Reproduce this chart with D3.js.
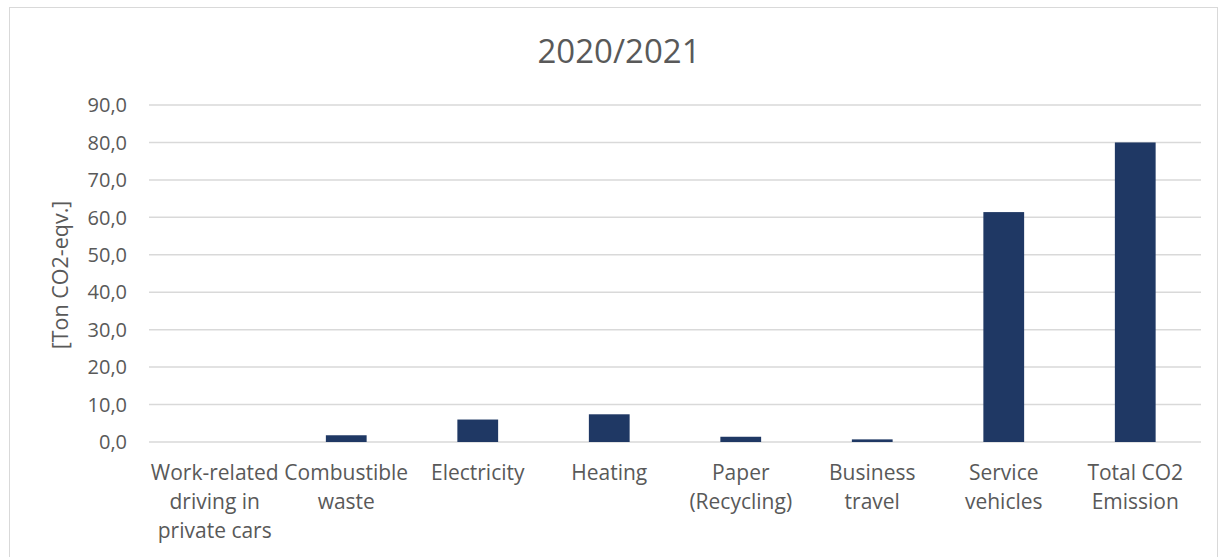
<!DOCTYPE html>
<html><head><meta charset="utf-8">
<script src="https://cdn.jsdelivr.net/npm/d3@7"></script>
<style>body{margin:0;background:#fff;} text{font-family:"Open Sans",sans-serif;}</style>
</head><body>
<svg id="c" width="1226" height="557"></svg>
<script>
const categories = [["Work-related","driving in","private cars"],["Combustible","waste"],["Electricity"],["Heating"],["Paper","(Recycling)"],["Business","travel"],["Service","vehicles"],["Total CO2","Emission"]];
const values = [0, 1.8, 6.0, 7.4, 1.4, 0.7, 61.4, 80.0];
const yTicks = [0,10,20,30,40,50,60,70,80,90];
const title = "2020/2021";
const yTitle = "[Ton CO2-eqv.]";

const svg = d3.select("#c");
svg.append("rect").attr("x",9.5).attr("y",7.5).attr("width",1208).attr("height",560).attr("fill","#fff").attr("stroke","#d9d9d9");
const x = d3.scaleBand().domain(d3.range(categories.length)).range([149,1201]).paddingInner(0.69).paddingOuter(0.345);
const y = d3.scaleLinear().domain([0,90]).range([442,105]);
const col = "#595959";
svg.append("g").selectAll("line").data(yTicks).join("line")
  .attr("x1",149).attr("x2",1201).attr("y1",d=>y(d)).attr("y2",d=>y(d))
  .attr("stroke","#d9d9d9").attr("stroke-width",1.5);
svg.append("g").selectAll("text").data(yTicks).join("text")
  .attr("x",127).attr("y",d=>y(d)).attr("dy","0.36em").attr("text-anchor","end")
  .attr("font-size",20).attr("fill",col).text(d=>d.toFixed(1).replace(".",","));
svg.append("g").selectAll("rect").data(values).join("rect")
  .attr("x",(d,i)=>x(i)).attr("width",x.bandwidth()).attr("y",d=>y(d)).attr("height",d=>y(0)-y(d))
  .attr("fill","#1f3864");
categories.forEach((lines,i)=>{
  const t = svg.append("text").attr("text-anchor","middle").attr("font-size",21).attr("fill",col);
  lines.forEach((l,j)=>t.append("tspan").attr("x",x(i)+x.bandwidth()/2).attr("y",480+j*29).text(l));
});
svg.append("text").attr("x",619).attr("y",63).attr("text-anchor","middle").attr("font-size",33).attr("fill",col).text(title);
svg.append("text").attr("transform","translate(68,275) rotate(-90)").attr("text-anchor","middle").attr("font-size",21.5).attr("fill",col).text(yTitle);
</script>
</body></html>
